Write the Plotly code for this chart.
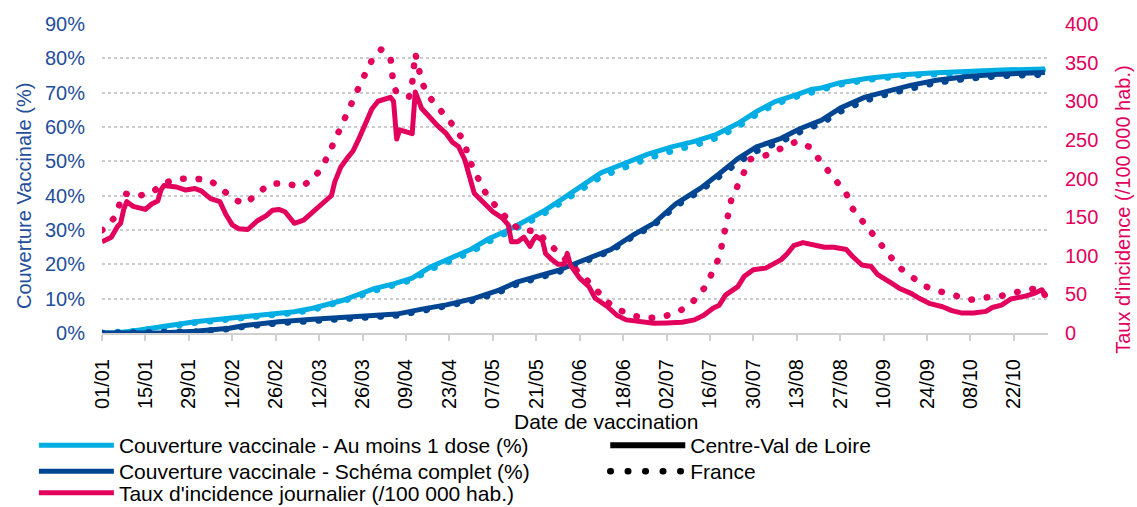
import pandas as pd
import plotly.graph_objects as go

YEAR = "2021"

# ---------------- data ----------------
cvl_inc_dates = ["01/01", "03/01", "04/01", "06/01", "07/01", "08/01", "09/01", "11/01", "13/01", "15/01",
                 "17/01", "19/01", "20/01", "21/01", "25/01", "28/01", "31/01", "02/02", "05/02", "08/02",
                 "10/02", "12/02", "14/02", "17/02", "20/02", "23/02", "25/02", "27/02", "01/03", "04/03",
                 "07/03", "11/03", "14/03", "16/03", "17/03", "19/03", "21/03", "23/03", "25/03", "27/03",
                 "29/03", "31/03", "02/04", "04/04", "05/04", "06/04", "07/04", "09/04", "11/04", "12/04",
                 "13/04", "14/04", "17/04", "19/04", "22/04", "24/04", "26/04", "28/04", "01/05", "04/05",
                 "07/05", "10/05", "12/05", "13/05", "15/05", "17/05", "19/05", "20/05", "21/05", "23/05",
                 "24/05", "26/05", "28/05", "30/05", "31/05", "01/06", "03/06", "04/06", "07/06", "09/06",
                 "13/06", "16/06", "19/06", "23/06", "28/06", "02/07", "07/07", "11/07", "14/07", "17/07",
                 "19/07", "21/07", "25/07", "27/07", "30/07", "03/08", "05/08", "08/08", "10/08", "12/08",
                 "15/08", "18/08", "22/08", "25/08", "29/08", "31/08", "03/09", "06/09", "08/09", "12/09",
                 "15/09", "19/09", "21/09", "25/09", "29/09", "02/10", "05/10", "09/10", "13/10", "15/10",
                 "18/10", "21/10", "24/10", "26/10", "29/10", "31/10", "01/11"]
cvl_inc = [118, 121, 124, 138, 142, 160, 170, 164, 162, 160,
           167, 171, 185, 191, 189, 185, 187, 184, 174, 170,
           153, 140, 135, 134, 145, 152, 159, 160, 157, 142,
           146, 161, 172, 178, 195, 215, 226, 236, 253, 270,
           290, 300, 303, 305, 300, 251, 263, 260, 258, 312,
           300, 291, 278, 269, 258, 247, 241, 224, 181, 168,
           157, 149, 140, 118, 118, 124, 112, 120, 125, 120,
           103, 95, 89, 89, 103, 88, 77, 71, 60, 45,
           34, 23, 17, 15, 12.5, 13, 14, 17, 23, 32,
           36, 49, 60, 73, 82, 84, 88, 95, 103, 113,
           117, 115, 111, 111, 108, 99, 88, 86, 76, 66,
           58, 51, 46, 38, 34, 29, 26, 26, 28, 33,
           36, 44, 46, 48, 52, 56, 50]

fr_inc_dates = ["01/01", "05/01", "08/01", "12/01", "17/01", "20/01", "25/01", "30/01", "04/02", "08/02",
                "12/02", "16/02", "20/02", "24/02", "01/03", "06/03", "10/03", "13/03", "15/03", "17/03",
                "19/03", "21/03", "23/03", "25/03", "27/03", "29/03", "01/04", "03/04", "04/04", "05/04",
                "06/04", "10/04", "11/04", "12/04", "13/04", "14/04", "16/04", "19/04", "22/04", "25/04",
                "28/04", "29/04", "01/05", "03/05", "05/05", "08/05", "11/05", "13/05", "16/05", "21/05",
                "24/05", "28/05", "01/06", "05/06", "09/06", "12/06", "16/06", "21/06", "25/06", "01/07",
                "06/07", "10/07", "13/07", "15/07", "17/07", "19/07", "20/07", "21/07", "22/07", "23/07",
                "25/07", "27/07", "29/07", "03/08", "08/08", "13/08", "17/08", "20/08", "23/08", "26/08",
                "29/08", "31/08", "03/09", "06/09", "09/09", "12/09", "15/09", "19/09", "23/09", "28/09",
                "03/10", "08/10", "13/10", "18/10", "23/10", "28/10", "31/10", "01/11"]
fr_inc = [133, 149, 181, 177, 181, 192, 200, 200, 199, 189,
          174, 167, 181, 193, 194, 189, 199, 215, 231, 250,
          268, 283, 302, 320, 338, 353, 367, 362, 357, 320,
          311, 306, 323, 362, 345, 326, 308, 294, 279, 265,
          246, 228, 210, 195, 179, 164, 151, 142, 133, 132,
          120, 105, 90, 74, 58, 43, 31, 23, 19, 21,
          28, 38, 51, 62, 81, 98, 117, 137, 160, 175,
          191, 208, 225, 230, 238, 248, 241, 225, 211, 195,
          180, 161, 145, 131, 114, 100, 85, 73, 61, 54,
          48, 43, 46, 48, 53, 57, 57, 49]

dose1_dates = ["01/01", "06/01", "11/01", "16/01", "22/01", "31/01", "11/02", "22/02", "04/03", "10/03",
               "15/03", "20/03", "24/03", "30/03", "05/04", "11/04", "17/04", "23/04", "30/04", "06/05",
               "12/05", "17/05", "23/05", "28/05", "03/06", "05/06", "11/06", "19/06", "26/06", "04/07",
               "11/07", "18/07", "25/07", "31/07", "06/08", "13/08", "18/08", "21/08", "27/08", "05/09",
               "16/09", "27/09", "07/10", "18/10", "01/11"]
cvl_dose1 = [0, 0.1, 0.6, 1.3, 2.3, 3.3, 4.3, 5.2, 6.2, 7.2,
             8.4, 9.6, 11.0, 13.0, 14.3, 16.0, 19.3, 21.8, 24.4, 27.6,
             30.0, 32.4, 35.3, 38.2, 42.0, 43.2, 46.7, 49.6, 52.1, 54.3,
             55.8, 57.8, 61.0, 64.5, 67.4, 69.4, 71.0, 71.4, 72.9, 74.2,
             75.2, 75.8, 76.3, 76.6, 76.9]
fr_dose1 = [0, 0.1, 0.5, 1.1, 2.0, 3.0, 4.0, 4.9, 5.9, 6.8,
            8.0, 9.2, 10.5, 12.4, 13.8, 15.5, 18.6, 21.0, 23.6, 26.8,
            29.2, 31.6, 34.5, 37.4, 41.1, 42.2, 45.6, 48.4, 50.9, 53.1,
            54.7, 56.8, 60.1, 63.7, 66.7, 68.9, 70.4, 70.9, 72.4, 73.8,
            74.9, 75.5, 76.0, 76.3, 76.6]

full_dates = ["01/01", "11/01", "21/01", "31/01", "11/02", "16/02", "27/02", "10/03", "19/03", "27/03",
              "06/04", "15/04", "22/04", "01/05", "09/05", "15/05", "21/05", "28/05", "03/06", "06/06",
              "14/06", "21/06", "28/06", "05/07", "13/07", "19/07", "25/07", "31/07", "08/08", "14/08",
              "18/08", "21/08", "27/08", "04/09", "12/09", "19/09", "27/09", "07/10", "18/10", "01/11"]
cvl_full = [0, 0, 0.1, 0.5, 1.4, 2.2, 3.3, 4.0, 4.5, 4.9,
            5.5, 7.1, 8.2, 10.1, 12.5, 14.9, 16.4, 18.2, 20.4, 21.4,
            24.3, 28.4, 32.0, 37.6, 42.2, 46.4, 50.8, 54.2, 56.7, 59.5,
            60.8, 62.0, 65.5, 68.7, 70.6, 72.2, 73.6, 74.7, 75.4, 75.9]
fr_full = [0, 0, 0.1, 0.4, 1.2, 1.9, 2.9, 3.6, 4.1, 4.5,
           5.1, 6.6, 7.7, 9.5, 11.9, 14.3, 15.9, 17.7, 19.9, 21.0,
           23.9, 28.0, 31.5, 37.0, 41.5, 45.6, 49.7, 53.0, 55.8, 58.6,
           60.0, 61.1, 64.5, 67.7, 69.8, 71.4, 72.9, 74.1, 74.9, 75.3]

tick_labels = ["01/01", "15/01", "29/01", "12/02", "26/02", "12/03", "26/03", "09/04", "23/04", "07/05",
               "21/05", "04/06", "18/06", "02/07", "16/07", "30/07", "13/08", "27/08", "10/09", "24/09",
               "08/10", "22/10"]

# ---------------- styling ----------------
LIGHT = "#00AEE3"
DARK = "#004592"
RED = "#E3005D"
LEFT_TXT = "#1F4E9A"
FONT = "Liberation Sans, Arial, sans-serif"
FR_DASH = "0.5px,15px"
LEG_FONT = 21


def to_dt(lst):
    return pd.to_datetime([d + "/" + YEAR for d in lst], format="%d/%m/%Y")


fig = go.Figure()

fig.add_trace(go.Scatter(x=to_dt(dose1_dates), y=fr_dose1, mode="lines", showlegend=False,
                         line=dict(color=LIGHT, width=6.5, dash=FR_DASH), name="France 1 dose"))
fig.add_trace(go.Scatter(x=to_dt(dose1_dates), y=cvl_dose1, mode="lines",
                         line=dict(color=LIGHT, width=5),
                         name="Couverture vaccinale - Au moins 1 dose (%)", legend="legend"))
fig.add_trace(go.Scatter(x=to_dt(full_dates), y=fr_full, mode="lines", showlegend=False,
                         line=dict(color=DARK, width=6.5, dash=FR_DASH), name="France complet"))
fig.add_trace(go.Scatter(x=to_dt(full_dates), y=cvl_full, mode="lines",
                         line=dict(color=DARK, width=5),
                         name="Couverture vaccinale - Schéma complet (%)", legend="legend3"))
fig.add_trace(go.Scatter(x=to_dt(fr_inc_dates), y=fr_inc, mode="lines", showlegend=False, yaxis="y2",
                         line=dict(color=RED, width=6.5, dash=FR_DASH), name="France incidence"))
fig.add_trace(go.Scatter(x=to_dt(cvl_inc_dates), y=cvl_inc, mode="lines", yaxis="y2",
                         line=dict(color=RED, width=5),
                         name="Taux d'incidence journalier (/100 000 hab.)", legend="legend4"))

# legend-only keys for the geography
fig.add_trace(go.Scatter(x=[None], y=[None], mode="lines", name="Centre-Val de Loire",
                         line=dict(color="black", width=6), legend="legend2"))
fig.add_trace(go.Scatter(x=[None], y=[None], mode="lines", name="France",
                         line=dict(color="black", width=6.5, dash="0.5px,17px"), legend="legend5"))

tickvals = to_dt(tick_labels)


def leg(x, y):
    return dict(x=x, xanchor="left", y=y, yanchor="top", orientation="v",
                bgcolor="rgba(0,0,0,0)", font=dict(size=LEG_FONT, color="black"), itemwidth=75)


ROW1, ROW2, ROW3 = -0.298, -0.382, -0.452
COL1, COL2 = -0.072, 0.532

fig.update_layout(
    width=1137, height=507,
    margin=dict(l=102, r=89, t=24, b=174, autoexpand=False),
    paper_bgcolor="white", plot_bgcolor="white",
    font=dict(family=FONT, size=20, color="black"),
    xaxis=dict(type="date", range=["2021-01-01", "2021-11-02"], automargin=False,
               tickmode="array", tickvals=tickvals, ticktext=tick_labels, tickangle=-90,
               ticks="outside", ticklen=6, tickwidth=1.5, tickcolor="#d0d0d0",
               showline=True, linecolor="#d0d0d0", linewidth=2, showgrid=False, zeroline=False,
               tickfont=dict(size=20, color="black"), ticklabelstandoff=10),
    yaxis=dict(range=[0, 90], dtick=10, ticksuffix="%", showgrid=True, gridcolor="#cccccc",
               griddash="dot", gridwidth=1.5, zeroline=False, showline=False, automargin=False,
               tickfont=dict(size=20, color=LEFT_TXT), ticklabelstandoff=16),
    yaxis2=dict(range=[0, 400], dtick=50, overlaying="y", side="right", showgrid=False,
                zeroline=False, showline=False, automargin=False, tickfont=dict(size=20, color=RED),
                ticklabelstandoff=16),
    legend=leg(COL1, ROW1),
    legend3=leg(COL1, ROW2),
    legend4=leg(COL1, ROW3),
    legend2=leg(COL2, ROW1),
    legend5=leg(COL2, ROW2),
    annotations=[
        dict(text="Couverture Vaccinale (%)", xref="paper", yref="paper", x=-0.0825, y=0.443,
             textangle=-90, showarrow=False, font=dict(size=20, color=LEFT_TXT),
             xanchor="center", yanchor="middle"),
        dict(text="Taux d'incidence (/100 000 hab.)", xref="paper", yref="paper", x=1.079, y=0.398,
             textangle=-90, showarrow=False, font=dict(size=20, color=RED),
             xanchor="center", yanchor="middle"),
        dict(text="Date de vaccination", xref="paper", yref="paper", x=0.533, y=-0.287,
             showarrow=False, font=dict(size=21, color="black"), xanchor="center", yanchor="middle"),
    ],
)

post = """
document.body.style.margin = '0';
document.body.style.padding = '0';
var gd = document.getElementById('{plot_id}');
function fixCaps(){
  document.querySelectorAll('path.js-line').forEach(function(p){
    var da = p.style.strokeDasharray;
    if(da && da !== 'none'){ p.style.strokeLinecap = 'round'; }
    p.style.strokeLinejoin = 'round';
  });
}
fixCaps();
gd.on('plotly_afterplot', fixCaps);
"""

fig.write_html("out.html", post_script=post, config={"displayModeBar": False})
